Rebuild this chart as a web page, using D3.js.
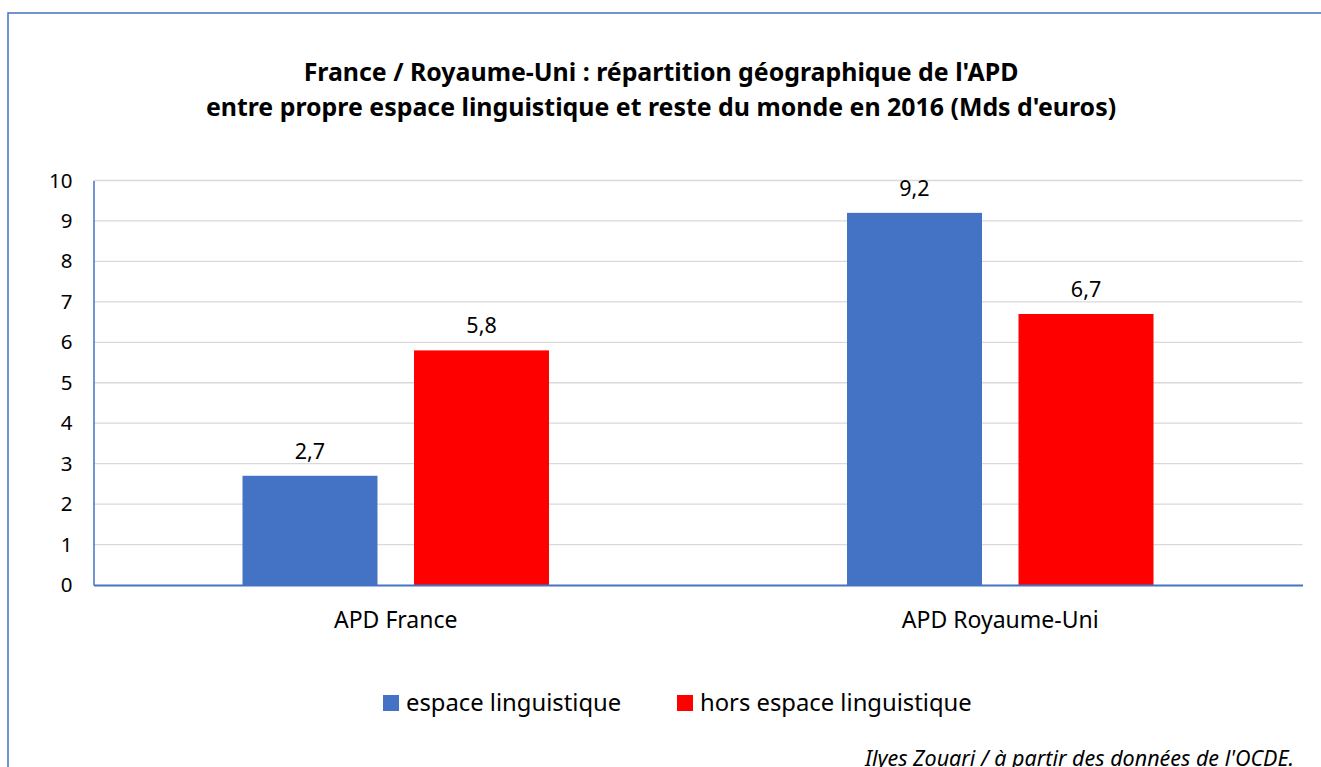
<!DOCTYPE html>
<html><head><meta charset="utf-8">
<script src="https://cdn.jsdelivr.net/npm/d3@7"></script>
<style>body{margin:0;background:#fff;} svg{display:block;}</style>
</head><body>
<svg id="c" width="1321" height="767"></svg>
<script>
const categories = ["APD France", "APD Royaume-Uni"];
const seriesNames = ["espace linguistique", "hors espace linguistique"];
const seriesColors = ["#4472c4", "#ff0000"];
const espaceValues = [2.7, 9.2];
const horsValues = [5.8, 6.7];
const yTicks = [0,1,2,3,4,5,6,7,8,9,10];
const titleLines = ["France / Royaume-Uni : répartition géographique de l'APD",
  "entre propre espace linguistique et reste du monde en 2016 (Mds d'euros)"];
const sourceText = "Ilyes Zouari / à partir des données de l'OCDE.";

const font = "'Noto Sans', 'Open Sans', sans-serif";
const svg = d3.select("#c");
svg.append("rect").attr("x",8).attr("y",13).attr("width",1330).attr("height",800)
  .attr("fill","#fff").attr("stroke","#4472c4").attr("stroke-width",1.5);

const m = {left:93.5, right:1302.5, top:180.5, bottom:585};
const x0 = d3.scaleBand().domain(categories).range([m.left, m.right]).paddingInner(0).paddingOuter(0);
const x1 = d3.scaleBand().domain(seriesNames).range([149, x0.bandwidth()-149]).paddingInner(0.213);
const y = d3.scaleLinear().domain([0,10]).range([m.bottom, m.top]);

const g = svg.append("g");
g.selectAll("line.grid").data(yTicks.filter(d=>d>0)).join("line")
  .attr("x1", m.left).attr("x2", m.right).attr("y1", d=>y(d)).attr("y2", d=>y(d))
  .attr("stroke","#d9d9d9").attr("stroke-width",1.3);

const yAxis = d3.axisLeft(y).tickValues(yTicks).tickSize(0).tickPadding(21).tickFormat(d3.format("d"));
const ya = g.append("g").attr("transform",`translate(${m.left},0)`).call(yAxis);
ya.select(".domain").attr("stroke","#4472c4").attr("stroke-width",1.5);
ya.selectAll("text").attr("font-family",font).attr("font-size",20.5).attr("fill","#000");

const data = categories.map((c,i)=>({cat:c, vals:[espaceValues[i], horsValues[i]]}));
const groups = g.selectAll("g.cat").data(data).join("g").attr("transform",d=>`translate(${x0(d.cat)},0)`);
groups.selectAll("rect").data(d=>d.vals.map((v,j)=>({v, s:seriesNames[j], c:seriesColors[j]}))).join("rect")
  .attr("x",d=>x1(d.s)).attr("width",x1.bandwidth())
  .attr("y",d=>y(d.v)).attr("height",d=>y(0)-y(d.v)).attr("fill",d=>d.c);
groups.selectAll("text.val").data(d=>d.vals.map((v,j)=>({v, s:seriesNames[j]}))).join("text")
  .attr("x",d=>x1(d.s)+x1.bandwidth()/2).attr("y",d=>y(d.v)-17)
  .attr("text-anchor","middle").attr("font-family",font).attr("font-size",21.5)
  .text(d=>d3.format(".1f")(d.v).replace(".",","));

const xAxis = d3.axisBottom(x0).tickSize(0).tickPadding(0);
const xa = g.append("g").attr("transform",`translate(0,${m.bottom})`).call(xAxis);
xa.select(".domain").attr("stroke","#4472c4").attr("stroke-width",1.8);
xa.selectAll("text").attr("font-family",font).attr("font-size",23).attr("fill","#000").attr("dy",null).attr("y",43);

svg.selectAll("text.title").data(titleLines).join("text")
  .attr("x",661).attr("y",(d,i)=>81+i*35).attr("text-anchor","middle")
  .attr("font-family",font).attr("font-weight","bold").attr("font-size",24.9).text(d=>d);

const legX = [383, 677];
const leg = svg.selectAll("g.leg").data(seriesNames).join("g").attr("transform",(d,i)=>`translate(${legX[i]},695)`);
leg.append("rect").attr("width",16).attr("height",16).attr("fill",(d,i)=>seriesColors[i]);
leg.append("text").attr("x",23).attr("y",16).attr("font-family",font).attr("font-size",23.8).text(d=>d);

svg.append("text").attr("x",1294).attr("y",766).attr("text-anchor","end")
  .attr("font-family",font).attr("font-style","italic").attr("font-size",21.5).text(sourceText);
</script>
</body></html>
